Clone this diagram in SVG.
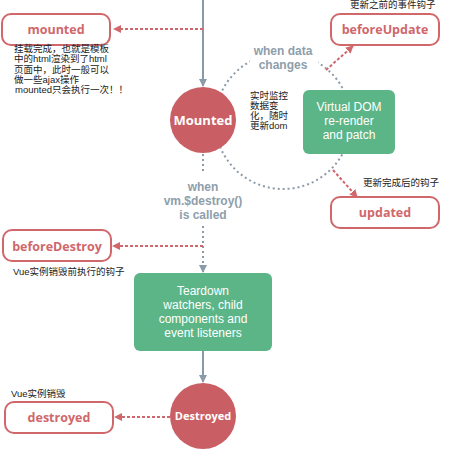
<svg xmlns="http://www.w3.org/2000/svg" width="465" height="454" viewBox="0 0 465 454">
<defs>
<style>
.hook{fill:#fff;stroke:#d0676b;stroke-width:2}
.hookt{font-family:"Open Sans","Liberation Sans",sans-serif;font-weight:bold;font-size:12.5px;fill:#d0676b;text-anchor:middle}
.circ{fill:#c95f64}
.circt{font-family:"Open Sans","Liberation Sans",sans-serif;font-weight:bold;fill:#fff;text-anchor:middle}
.green{fill:#5cb587}
.greent{font-family:"Liberation Sans",Arial,sans-serif;font-size:12px;fill:#fff;text-anchor:middle}
.gray{font-family:"Liberation Sans",Arial,sans-serif;font-weight:bold;font-size:12px;fill:#8e9eab;text-anchor:middle}
.note{font-family:"Liberation Sans","Noto Sans CJK SC",sans-serif;font-size:9.5px;fill:#222}
.solid{stroke:#8b9aa8;stroke-width:2;fill:none}
.dot{stroke:#8b9aa8;stroke-width:2;stroke-dasharray:2 3;fill:none}
.rdot{stroke:#d0676b;stroke-width:2;stroke-dasharray:3 2;fill:none}
</style>
<marker id="ag" markerWidth="8" markerHeight="8" refX="7" refY="4" orient="auto" markerUnits="userSpaceOnUse"><path d="M0,0 L8,4 L0,8 Z" fill="#8b9aa8"/></marker>
<marker id="ar" markerWidth="8" markerHeight="8" refX="7" refY="4" orient="auto" markerUnits="userSpaceOnUse"><path d="M0,0 L8,4 L0,8 Z" fill="#d0676b"/></marker>
</defs>
<rect width="465" height="454" fill="#fff"/>
<g id="connectors">
<circle cx="283" cy="121" r="68" class="dot"/>
<rect x="250" y="40" width="68" height="30" fill="#fff"/>
<line x1="203" y1="0" x2="203" y2="86" class="solid" marker-end="url(#ag)"/>
<line x1="203" y1="29" x2="114" y2="29" class="rdot" marker-end="url(#ar)"/>
<line x1="203" y1="154" x2="203" y2="174" class="dot"/>
<line x1="203" y1="226" x2="203" y2="272" class="dot" marker-end="url(#ag)"/>
<line x1="203" y1="246" x2="113" y2="246" class="rdot" marker-end="url(#ar)"/>
<line x1="203" y1="351" x2="203" y2="382" class="solid" marker-end="url(#ag)"/>
<line x1="170" y1="417" x2="115" y2="417" class="rdot" marker-end="url(#ar)"/>
<line x1="326" y1="70" x2="353" y2="46" class="rdot" marker-end="url(#ar)"/>
<line x1="333" y1="170" x2="357" y2="197" class="rdot" marker-end="url(#ar)"/>
<text class="gray" x="283" y="55">when data</text>
<text class="gray" x="283" y="69">changes</text>
<text class="gray" x="203" y="191">when</text>
<text class="gray" x="203" y="205">vm.$destroy()</text>
<text class="gray" x="203" y="219">is called</text>
</g>
<g id="mounted">
<rect x="2" y="14" width="108" height="31" rx="9" class="hook"/>
<text class="hookt" x="56" y="34">mounted</text>
</g>
<g id="mounted-note" class="note">
<text x="14" y="52">挂载完成，也就是模板</text>
<text x="14" y="62">中的html渲染到了html</text>
<text x="14" y="73">页面中，此时一般可以</text>
<text x="14" y="83">做一些ajax操作</text>
<text x="15" y="93">mounted只会执行一次！！</text>
</g>
<g id="Mounted">
<circle cx="203" cy="120" r="33" class="circ"/>
<text class="circt" x="203" y="125" font-size="13">Mounted</text>
</g>
<g id="watch-note" class="note">
<text x="250" y="99">实时监控</text>
<text x="250" y="109">数据变</text>
<text x="250" y="119">化，随时</text>
<text x="250" y="129">更新dom</text>
</g>
<g id="beforeUpdate">
<text class="note" x="350" y="8">更新之前的事件钩子</text>
<rect x="331" y="14" width="108" height="31" rx="9" class="hook"/>
<text class="hookt" x="385" y="34">beforeUpdate</text>
</g>
<g id="vdom">
<rect x="303" y="90" width="92" height="64" rx="6" class="green"/>
<text class="greent" x="349" y="111">Virtual DOM</text>
<text class="greent" x="349" y="125">re-render</text>
<text class="greent" x="349" y="139">and patch</text>
</g>
<g id="updated">
<text class="note" x="363" y="186">更新完成后的钩子</text>
<rect x="331" y="197" width="108" height="31" rx="9" class="hook"/>
<text class="hookt" x="385" y="217">updated</text>
</g>
<g id="beforeDestroy">
<rect x="3" y="230" width="108" height="31" rx="9" class="hook"/>
<text class="hookt" x="57" y="251">beforeDestroy</text>
<text class="note" x="13" y="275">Vue实例销毁前执行的钩子</text>
</g>
<g id="teardown">
<rect x="134" y="273" width="138" height="78" rx="6" class="green"/>
<text class="greent" x="203" y="295">Teardown</text>
<text class="greent" x="203" y="309">watchers, child</text>
<text class="greent" x="203" y="323">components and</text>
<text class="greent" x="203" y="337">event listeners</text>
</g>
<g id="Destroyed">
<circle cx="203" cy="416" r="33" class="circ"/>
<text class="circt" x="203" y="420" font-size="11">Destroyed</text>
</g>
<g id="destroyed">
<text class="note" x="11" y="397">Vue实例销毁</text>
<rect x="5" y="402" width="108" height="31" rx="9" class="hook"/>
<text class="hookt" x="59" y="422">destroyed</text>
</g>
</svg>
